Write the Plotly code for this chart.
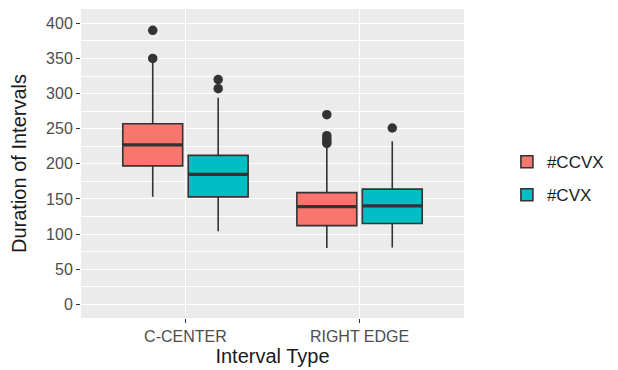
import plotly.graph_objects as go

categories = ["C-CENTER", "RIGHT EDGE"]

# #CCVX box statistics
ccvx_lower = [153, 80]
ccvx_q1 = [197, 112]
ccvx_median = [227, 139]
ccvx_q3 = [257, 159]
ccvx_upper = [345, 224]
ccvx_out_x = ["C-CENTER", "C-CENTER", "RIGHT EDGE", "RIGHT EDGE", "RIGHT EDGE", "RIGHT EDGE", "RIGHT EDGE"]
ccvx_out_y = [350, 390, 229, 232, 236, 240, 270]

# #CVX box statistics
cvx_lower = [104, 81]
cvx_q1 = [153, 115]
cvx_median = [185, 140]
cvx_q3 = [212, 164]
cvx_upper = [294, 232]
cvx_out_x = ["C-CENTER", "C-CENTER", "RIGHT EDGE"]
cvx_out_y = [307, 320, 251]

y_ticks = [0, 50, 100, 150, 200, 250, 300, 350, 400]

EDGE = "#333333"
FONT = "Liberation Sans, Arial, sans-serif"

fig = go.Figure()

series = [
    ("#CCVX", "#F8766D", ccvx_lower, ccvx_q1, ccvx_median, ccvx_q3, ccvx_upper, ccvx_out_x, ccvx_out_y, "a"),
    ("#CVX", "#00BFC4", cvx_lower, cvx_q1, cvx_median, cvx_q3, cvx_upper, cvx_out_x, cvx_out_y, "b"),
]

for name, color, lo, q1, med, q3, up, ox, oy, grp in series:
    fig.add_trace(go.Box(
        name=name, x=categories, lowerfence=lo, q1=q1, median=med, q3=q3, upperfence=up,
        fillcolor=color, line=dict(color=EDGE, width=1.6), whiskerwidth=0,
        offsetgroup=grp, legendgroup=grp, boxpoints=False, hoverinfo="skip",
    ))

# thicker median lines (ggplot style), drawn as flat boxes at the median
for name, color, lo, q1, med, q3, up, ox, oy, grp in series:
    fig.add_trace(go.Box(
        name=name, x=categories, lowerfence=med, q1=med, median=med, q3=med, upperfence=med,
        fillcolor=color, line=dict(color=EDGE, width=3.2), whiskerwidth=0,
        offsetgroup=grp, legendgroup=grp, boxpoints=False, showlegend=False, hoverinfo="skip",
    ))

for name, color, lo, q1, med, q3, up, ox, oy, grp in series:
    fig.add_trace(go.Scatter(
        x=ox, y=oy, mode="markers", offsetgroup=grp, legendgroup=grp, showlegend=False,
        marker=dict(color=EDGE, size=9.5), name=name,
    ))

fig.update_layout(
    width=618, height=370,
    margin=dict(l=73, r=162, t=1, b=60),
    paper_bgcolor="white", plot_bgcolor="#EBEBEB",
    boxmode="group", boxgap=0.248, boxgroupgap=0.085,
    scattermode="group", scattergap=0.248,
    font=dict(family=FONT, color="#4D4D4D", size=16),
    legend=dict(x=1.112, y=0.451, yanchor="middle", xanchor="left",
                font=dict(size=17, color="#1A1A1A"), bgcolor="rgba(0,0,0,0)",
                tracegroupgap=8, traceorder="grouped"),
    showlegend=True,
)

fig.update_xaxes(
    range=[-0.6, 1.6], showgrid=True, gridcolor="white", gridwidth=1.4,
    ticks="outside", ticklen=4, tickcolor="#333333", tickwidth=1,
    tickfont=dict(size=16, color="#4D4D4D"), zeroline=False,
    title=dict(text="Interval Type", font=dict(size=20, color="#1A1A1A"), standoff=2),
)
fig.update_yaxes(
    range=[-19.5, 420.4], tickvals=y_ticks, showgrid=True, gridcolor="white", gridwidth=1.4,
    minor=dict(dtick=25, tick0=0, showgrid=True, gridcolor="white", gridwidth=0.6),
    ticks="outside", ticklen=4, tickcolor="#333333", tickwidth=1,
    tickfont=dict(size=16, color="#4D4D4D"), zeroline=False,
    title=dict(text="Duration of Intervals", font=dict(size=20, color="#1A1A1A"), standoff=14),
)

fig.write_html("out.html")
